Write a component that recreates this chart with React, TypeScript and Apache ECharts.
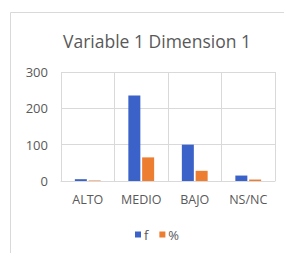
import React, { useEffect, useRef } from "react";
import * as echarts from "echarts";

const categories = ["ALTO", "MEDIO", "BAJO", "NS/NC"];
const fValues = [5, 235, 100, 15];
const pctValues = [1.4, 65, 28, 4];
const yTicks = [0, 100, 200, 300];

export default function App() {
  const ref = useRef<HTMLDivElement>(null);
  useEffect(() => {
    const chart = echarts.init(ref.current!, null, { renderer: "svg" });
    const font = "'Open Sans', 'Liberation Sans', sans-serif";
    chart.setOption({
      animation: false,
      backgroundColor: "#ffffff",
      title: {
        text: "Variable 1 Dimension 1",
        left: 152,
        textAlign: "center",
        top: 27,
        textStyle: { color: "#595959", fontSize: 17.5, fontWeight: "normal", fontFamily: font },
      },
      graphic: [
        {
          type: "rect",
          shape: { x: 10.5, y: 12.5, width: 290, height: 260 },
          style: { fill: "none", stroke: "#d9d9d9", lineWidth: 1 },
          silent: true,
        },
      ],
      grid: { left: 61, right: 9, top: 72, bottom: 72, containLabel: false },
      legend: {
        bottom: 7,
        left: 130,
        itemWidth: 6,
        itemHeight: 6,
        itemGap: 11,
        icon: "rect",
        textStyle: { color: "#595959", fontSize: 13, fontFamily: font, padding: [0, 0, 0, -2] },
        data: ["f", "%"],
      },
      xAxis: {
        type: "category",
        data: categories,
        axisLine: { lineStyle: { color: "#d9d9d9" } },
        axisTick: { show: false },
        splitLine: { show: true, interval: 0, lineStyle: { color: "#d9d9d9" } },
        axisLabel: { color: "#595959", fontSize: 12.5, fontFamily: font, margin: 12, interval: 0 },
      },
      yAxis: {
        type: "value",
        min: yTicks[0],
        max: yTicks[yTicks.length - 1],
        interval: 100,
        axisLine: { show: false },
        axisTick: { show: false },
        splitLine: { lineStyle: { color: "#d9d9d9" } },
        axisLabel: { color: "#595959", fontSize: 13, fontFamily: font, margin: 13 },
      },
      series: [
        {
          name: "f",
          type: "bar",
          data: fValues,
          barWidth: 12,
          barGap: "15%",
          itemStyle: { color: "#3a62c8" },
        },
        {
          name: "%",
          type: "bar",
          data: pctValues,
          barWidth: 12,
          itemStyle: { color: "#ed7d31" },
        },
      ],
    });
    return () => chart.dispose();
  }, []);
  return (
    <div
      ref={ref}
      style={{ position: "absolute", left: 0, top: 0, width: 284, height: 253 }}
    />
  );
}
